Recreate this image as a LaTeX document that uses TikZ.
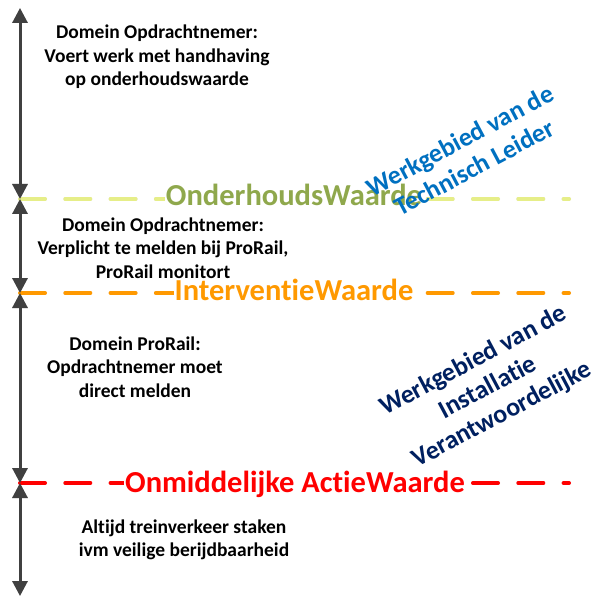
\documentclass[tikz,border=0pt]{standalone}
\usepackage{fontspec}
\setmainfont{Carlito}[Ligatures=NoCommon]
\usetikzlibrary{arrows.meta}
\definecolor{arrgray}{HTML}{404040}
\definecolor{olivegr}{HTML}{8FA84C}
\definecolor{yelline}{HTML}{E6EE88}
\definecolor{orangel}{HTML}{FF9900}
\definecolor{redl}{HTML}{FF0000}
\definecolor{bluet}{HTML}{0070C0}
\definecolor{navyt}{HTML}{002060}
\tikzset{
  vtip/.tip={Triangle[width=15pt,length=15pt]},
  arrowline/.style={draw=arrgray, line width=3pt, vtip-vtip},
  arrowshadow/.style={draw=gray!30, line width=3pt, vtip-vtip, shift={(2,2)}},
  dashline/.style={line width=4pt, line cap=round, dash pattern=on 25pt off 20.3pt},
  dashshadow/.style={dashline, draw=gray!22, shift={(2,3)}},
  valuelabel/.style={font=\bfseries\fontsize{30.5}{32}\selectfont, fill=white, inner xsep=1pt, inner ysep=1pt, anchor=base},
  domaintext/.style={font=\bfseries\fontsize{19.5}{23.5}\selectfont, align=center, inner sep=0pt},
  areatext/.style={font=\bfseries\fontsize{26}{30.5}\selectfont, align=center, rotate=28, inner sep=0pt}
}
\begin{document}
\begin{tikzpicture}[x=1pt,y=-1pt]
\useasboundingbox (0,0) rectangle (597,596);
% coordinates
\coordinate (a1t) at (20,8);
\coordinate (yl) at (20,199);
\coordinate (ol) at (20,293);
\coordinate (rl) at (20,483);
\coordinate (a4b) at (20,596);
\coordinate (yr) at (569,199);
\coordinate (or) at (569,293);
\coordinate (rr) at (569,483);
% shadows
\draw[dashshadow] (yl) -- (yr);
\draw[dashshadow] (ol) -- (or);
\draw[dashshadow] (rl) -- (rr);
\draw[arrowshadow] (a1t) -- (yl);
\draw[arrowshadow] (yl) -- (ol);
\draw[arrowshadow] (ol) -- (rl);
\draw[arrowshadow] (rl) -- (a4b);
% dashed lines
\draw[dashline, draw=yelline] (yl) -- (yr);
\draw[dashline, draw=orangel] (ol) -- (or);
\draw[dashline, draw=redl] (rl) -- (rr);
% arrows
\draw[arrowline] (a1t) -- (yl);
\draw[arrowline] (yl) -- (ol);
\draw[arrowline] (ol) -- (rl);
\draw[arrowline] (rl) -- (a4b);
% value labels
\node[valuelabel, text=olivegr] (ow) at (294,206) {OnderhoudsWaarde};
\node[valuelabel, text=orangel] (iw) at (294,300) {InterventieWaarde};
\node[valuelabel, text=redl] (aw) at (295,492) {Onmiddelijke ActieWaarde};
% domain texts
\node[domaintext] (d1) at (157,57) {Domein Opdrachtnemer:\\Voert werk met handhaving\\op onderhoudswaarde};
\node[domaintext] (d2) at (163,248) {Domein Opdrachtnemer:\\Verplicht te melden bij ProRail,\\ProRail monitort};
\node[domaintext] (d3) at (135,367) {Domein ProRail:\\Opdrachtnemer moet\\direct melden};
\node[domaintext] (d4) at (184,540) {Altijd treinverkeer staken\\ivm veilige berijdbaarheid};
% area texts
\node[areatext, text=bluet] (tl) at (467,154) {Werkgebied van de\\Technisch Leider};
\node[areatext, text=navyt] (iv) at (488,388) {Werkgebied van de\\Installatie\\Verantwoordelijke};
\end{tikzpicture}
\end{document}
